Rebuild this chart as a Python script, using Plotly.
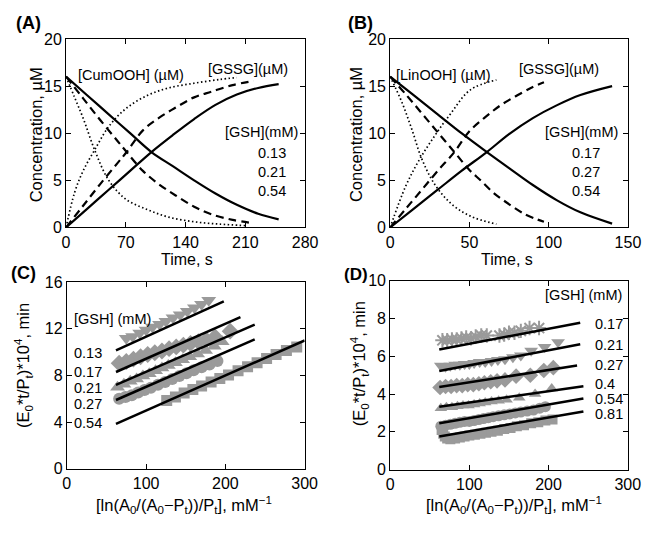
import plotly.graph_objects as go

# ---------------- Panel A (CumOOH) ----------------
A_t_solid = [0, 25, 50, 75, 100, 125, 150, 175, 200, 225, 249]
A_cum_solid = [16, 14.0, 12.0, 10.0, 8.0, 6.5, 5.0, 3.6, 2.4, 1.45, 0.85]
A_gssg_solid = [0, 2.0, 4.0, 6.0, 8.0, 9.8, 11.5, 13.0, 14.1, 14.8, 15.2]

A_t_dash = [0, 20, 40, 60, 71, 90, 110, 130, 150, 170, 195, 220]
A_cum_dash = [16, 13.7, 11.4, 9.2, 8.0, 6.0, 4.5, 3.3, 2.2, 1.4, 0.8, 0.45]
A_gssg_dash = [0, 2.3, 4.6, 6.8, 8.0, 10.3, 11.7, 12.8, 13.8, 14.4, 15.1, 15.55]

A_t_dot_cum = [0, 10, 20, 34, 50, 70, 95, 120, 150, 180, 210]
A_cum_dot = [16, 13.8, 11.6, 8.1, 5.0, 3.0, 1.9, 1.1, 0.6, 0.35, 0.2]
A_t_dot_gssg = [0, 10, 20, 34, 50, 70, 95, 120, 150, 180, 200]
A_gssg_dot = [0, 3.7, 6.0, 8.3, 10.7, 12.6, 14.0, 14.8, 15.3, 15.7, 15.9]
A_gsh_labels = ["0.13", "0.21", "0.54"]

# ---------------- Panel B (LinOOH) ----------------
B_t_solid = [0, 15, 30, 45, 61, 75, 90, 105, 120, 140]
B_lin_solid = [16, 14.0, 12.0, 10.0, 8.0, 6.3, 4.5, 2.9, 1.6, 0.4]
B_gssg_solid = [0, 2.0, 4.0, 6.0, 8.0, 9.9, 11.6, 12.95, 14.05, 15.0]

B_t_dash_l = [0, 10, 20, 30, 40.5, 50, 57, 65, 73, 85, 97]
B_lin_dash = [16, 14.1, 12.1, 10.1, 8.0, 6.1, 5.0, 3.7, 2.7, 1.4, 0.6]
B_t_dash_g = [0, 10, 20, 30, 40.5, 50, 60, 70, 80, 90, 97]
B_gssg_dash = [0, 2.0, 4.0, 6.0, 8.0, 10.2, 11.7, 13.0, 14.0, 14.9, 15.4]

B_t_dot_l = [0, 7.6, 13.7, 19.9, 28, 38.3, 50.6, 67]
B_lin_dot = [16, 13.2, 10.4, 7.3, 4.6, 2.55, 1.2, 0.35]
B_t_dot_g = [0, 9.6, 17.8, 28, 38.3, 50.6, 67]
B_gssg_dot = [0, 4.3, 7.0, 9.7, 12.1, 14.6, 15.65]
B_gsh_labels = ["0.17", "0.27", "0.54"]

# ---------------- Panel C ----------------
C_gsh = ["0.13", "0.17", "0.21", "0.27", "0.54"]
C_symbols = ["triangle-down", "diamond", "triangle-up", "circle", "square"]
C_x = [
    [75, 83, 92, 100, 108, 117, 125, 134, 143, 152, 161, 170, 179],
    [66, 75, 84, 93, 102, 111, 120, 129, 138, 147, 156, 166, 176, 187, 206],
    [64, 72, 80, 88, 96, 104, 112, 120, 128, 137, 146, 155, 165, 175, 186, 196],
    [66, 74, 82, 90, 98, 106, 115, 124, 133, 142, 151, 160, 170, 180, 190],
    [126, 137, 148, 159, 170, 182, 193, 204, 216, 228, 240, 252, 264, 277, 290],
]
C_y = [
    [11.2, 11.35, 11.65, 11.9, 12.15, 12.4, 12.65, 12.95, 13.2, 13.5, 13.8, 14.1, 14.45],
    [9.05, 9.2, 9.4, 9.6, 9.8, 9.95, 10.1, 10.3, 10.45, 10.6, 10.75, 10.9, 11.05, 11.3, 11.8],
    [7.0, 7.25, 7.5, 7.7, 7.95, 8.15, 8.4, 8.65, 8.85, 9.1, 9.35, 9.6, 9.85, 10.15, 10.5, 10.9],
    [6.0, 6.15, 6.3, 6.55, 6.75, 6.95, 7.2, 7.45, 7.7, 7.95, 8.2, 8.45, 8.7, 8.95, 9.25],
    [5.85, 6.15, 6.5, 6.8, 7.1, 7.45, 7.75, 8.05, 8.4, 8.75, 9.1, 9.45, 9.8, 10.15, 10.45],
]
C_fit_x0 = [62, 62, 62, 62, 62]
C_fit_x1 = [198, 219, 237, 237, 300]
C_fit_y0 = [10.15, 8.3, 7.2, 5.9, 3.85]
C_fit_y1 = [14.35, 13.0, 12.35, 11.1, 11.0]
C_label_y = [9.95, 8.3, 6.95, 5.6, 3.9]

# ---------------- Panel D ----------------
D_gsh = ["0.17", "0.21", "0.27", "0.4", "0.54", "0.81"]
D_symbols = ["asterisk-open", "triangle-down", "diamond", "triangle-up", "circle", "square"]
D_x = [
    [66, 72, 78, 84, 90, 96, 102, 108, 115, 122, 138, 144, 150, 157, 165, 176, 188],
    [64, 70, 76, 82, 88, 94, 100, 106, 113, 120, 128, 136, 145, 155, 165, 178, 195, 212],
    [63, 70, 77, 84, 91, 98, 105, 112, 119, 127, 135, 145, 159, 177, 194, 206],
    [64, 71, 78, 85, 92, 99, 106, 113, 120, 128, 137, 147, 163, 183, 204],
    [64, 70, 76, 82, 88, 94, 100, 106, 112, 118, 124, 130, 137, 144, 151, 158, 165, 173, 181, 189, 196],
    [65, 67, 69, 72, 76, 82, 88, 94, 100, 107, 114, 121, 128, 136, 144, 152, 160, 169, 178, 187, 196, 205],
]
D_y = [
    [6.85, 6.85, 6.9, 6.9, 6.95, 7.0, 6.95, 7.05, 7.1, 7.1, 7.1, 7.15, 7.25, 7.25, 7.35, 7.5, 7.5],
    [5.5, 5.45, 5.5, 5.55, 5.55, 5.6, 5.6, 5.65, 5.7, 5.7, 5.75, 5.8, 5.85, 5.95, 6.05, 6.3, 6.5, 6.75],
    [4.35, 4.4, 4.4, 4.45, 4.45, 4.5, 4.5, 4.55, 4.6, 4.65, 4.7, 4.75, 4.95, 5.0, 5.25, 5.4],
    [3.25, 3.3, 3.3, 3.35, 3.4, 3.4, 3.45, 3.5, 3.55, 3.6, 3.65, 3.7, 3.8, 4.0, 4.3],
    [2.3, 2.35, 2.4, 2.45, 2.5, 2.55, 2.55, 2.6, 2.65, 2.7, 2.75, 2.8, 2.85, 2.9, 2.95, 3.0, 3.05, 3.1, 3.15, 3.25, 3.33],
    [2.1, 1.9, 1.75, 1.65, 1.6, 1.65, 1.7, 1.75, 1.8, 1.85, 1.9, 1.95, 2.0, 2.05, 2.15, 2.2, 2.3, 2.35, 2.45, 2.5, 2.6, 2.65],
]
D_fit_x0 = [62, 62, 62, 62, 62, 62]
D_fit_x1 = [240, 240, 236, 244, 244, 244]
D_fit_y0 = [6.36, 5.22, 4.37, 3.33, 2.45, 1.75]
D_fit_y1 = [7.78, 6.64, 5.51, 4.41, 3.76, 3.08]
D_label_y = [7.7, 6.6, 5.56, 4.53, 3.76, 2.96]

FONT = "Liberation Sans, Arial, Helvetica, sans-serif"
GRAY = "#9a9a9a"
OFF = 8  # page body margin of the html page
W, H = 658 - OFF, 534 - OFF

fig = go.Figure()


def curve(t, v, dash, width, xa, ya):
    fig.add_trace(go.Scatter(x=t, y=v, mode="lines", xaxis=xa, yaxis=ya,
                             line=dict(color="black", width=width, dash=dash, shape="spline"),
                             hoverinfo="skip"))


DASH = "8px,5px"
DOT = "1.5px,2.5px"
# Panel A
curve(A_t_solid, A_cum_solid, "solid", 2.2, "x", "y")
curve(A_t_solid, A_gssg_solid, "solid", 2.2, "x", "y")
curve(A_t_dash, A_cum_dash, DASH, 2.2, "x", "y")
curve(A_t_dash, A_gssg_dash, DASH, 2.2, "x", "y")
curve(A_t_dot_cum, A_cum_dot, DOT, 1.7, "x", "y")
curve(A_t_dot_gssg, A_gssg_dot, DOT, 1.7, "x", "y")
# Panel B
curve(B_t_solid, B_lin_solid, "solid", 2.2, "x2", "y2")
curve(B_t_solid, B_gssg_solid, "solid", 2.2, "x2", "y2")
curve(B_t_dash_l, B_lin_dash, DASH, 2.2, "x2", "y2")
curve(B_t_dash_g, B_gssg_dash, DASH, 2.2, "x2", "y2")
curve(B_t_dot_l, B_lin_dot, DOT, 1.7, "x2", "y2")
curve(B_t_dot_g, B_gssg_dot, DOT, 1.7, "x2", "y2")

# Panel C markers then fit lines
C_sizes = [13, 13, 13, 12, 11]
for i in range(len(C_gsh)):
    fig.add_trace(go.Scatter(x=C_x[i], y=C_y[i], mode="markers", xaxis="x3", yaxis="y3",
                             marker=dict(symbol=C_symbols[i], size=C_sizes[i], color=GRAY,
                                         line=dict(width=0)), hoverinfo="skip"))
for i in range(len(C_gsh)):
    fig.add_trace(go.Scatter(x=[C_fit_x0[i], C_fit_x1[i]], y=[C_fit_y0[i], C_fit_y1[i]],
                             mode="lines", xaxis="x3", yaxis="y3",
                             line=dict(color="black", width=2.5), hoverinfo="skip"))

# Panel D markers then fit lines
D_sizes = [12, 12, 12, 11, 11, 10]
for i in range(len(D_gsh)):
    if D_symbols[i] == "asterisk-open":
        mk = dict(symbol=D_symbols[i], size=D_sizes[i], color=GRAY, line=dict(color=GRAY, width=2))
    else:
        mk = dict(symbol=D_symbols[i], size=D_sizes[i], color=GRAY, line=dict(width=0))
    fig.add_trace(go.Scatter(x=D_x[i], y=D_y[i], mode="markers", xaxis="x4", yaxis="y4",
                             marker=mk, hoverinfo="skip"))
for i in range(len(D_gsh)):
    fig.add_trace(go.Scatter(x=[D_fit_x0[i], D_fit_x1[i]], y=[D_fit_y0[i], D_fit_y1[i]],
                             mode="lines", xaxis="x4", yaxis="y4",
                             line=dict(color="black", width=2.5), hoverinfo="skip"))


def ax(domain, rng, tickvals, anchor):
    return dict(domain=domain, range=rng, tickvals=tickvals, anchor=anchor,
                showline=True, linecolor="black", linewidth=1, mirror="ticks",
                ticks="inside", ticklen=5, tickcolor="black", tickwidth=1,
                showgrid=False, zeroline=False, fixedrange=True,
                tickfont=dict(family=FONT, size=16, color="black"))


def px(x0, x1):
    return [(x0 - OFF) / W, (x1 - OFF) / W]


def py(top, bottom):
    return [1 - (bottom - OFF) / H, 1 - (top - OFF) / H]


def pX(x):
    return (x - OFF) / W


def pY(y):
    return 1 - (y - OFF) / H


fig.update_layout(
    width=W, height=H, margin=dict(l=0, r=0, t=0, b=0),
    paper_bgcolor="white", plot_bgcolor="white", showlegend=False,
    xaxis=ax(px(63.5, 309), [0, 280], [0, 70, 140, 210, 280], "y"),
    yaxis=ax(py(31.7, 226.5), [0, 20], [0, 5, 10, 15, 20], "x"),
    xaxis2=ax(px(396.3, 640.5), [0, 150], [0, 50, 100, 150], "y2"),
    yaxis2=ax(py(31.7, 226.5), [0, 20], [0, 5, 10, 15, 20], "x2"),
    xaxis3=ax(px(64.3, 308.5), [0, 300], [0, 100, 200, 300], "y3"),
    yaxis3=ax(py(283, 476), [0, 16], [0, 4, 8, 12, 16], "x3"),
    xaxis4=ax(px(396.3, 640.3), [0, 300], [0, 100, 200, 300], "y4"),
    yaxis4=ax(py(281.7, 476.7), [0, 10], [0, 2, 4, 6, 8, 10], "x4"),
)

ann = []


def note(text, x, y, xref, yref, size=14.5, xanchor="center", yanchor="middle", angle=0, bold=False):
    if bold:
        text = "<b>" + text + "</b>"
    ann.append(dict(text=text, x=x, y=y, xref=xref, yref=yref, showarrow=False,
                    xanchor=xanchor, yanchor=yanchor, textangle=angle,
                    font=dict(family=FONT, size=size, color="black")))


# panel letters
note("(A)", pX(25), pY(15), "paper", "paper", size=18, bold=True)
note("(B)", pX(365.5), pY(15), "paper", "paper", size=18, bold=True)
note("(C)", pX(19.5), pY(274), "paper", "paper", size=18, bold=True)
note("(D)", pX(361), pY(275), "paper", "paper", size=17, bold=True)

# axis titles
note("Concentration, \u00b5M", pX(33), pY(131), "paper", "paper", size=16.5, angle=-90)
note("Time, s", pX(187.5), pY(260), "paper", "paper", size=16)
note("Concentration, \u00b5M", pX(361.3), pY(131), "paper", "paper", size=16.5, angle=-90)
note("Time, s", pX(516.3), pY(260), "paper", "paper", size=16)
ytit = "(E<sub>0</sub>*t/P<sub>t</sub>)*10<sup>4</sup>, min"
xtit = "[ln(A<sub>0</sub>/(A<sub>0</sub>\u2212P<sub>t</sub>))/P<sub>t</sub>], mM<sup>\u22121</sup>"
note(ytit, pX(20), pY(369), "paper", "paper", size=16.5, angle=-90)
note(xtit, pX(185), pY(513), "paper", "paper", size=16.5)
note(ytit, pX(364.7), pY(367.5), "paper", "paper", size=16.5, angle=-90)
note(xtit, pX(523), pY(513), "paper", "paper", size=16.5)

# Panel A texts
note("[CumOOH] (\u00b5M)", 12, 16.2, "x", "y", xanchor="left")
note("[GSSG](\u00b5M)", 262, 16.85, "x", "y", xanchor="right")
note("[GSH](mM)", 274, 10.1, "x", "y", xanchor="right")
for lab, yy in zip(A_gsh_labels, [7.9, 5.9, 3.9]):
    note(lab, 241, yy, "x", "y")
# Panel B texts
note("[LinOOH] (\u00b5M)", 2.6, 16.2, "x2", "y2", xanchor="left")
note("[GSSG](\u00b5M)", 133, 16.85, "x2", "y2", xanchor="right")
note("[GSH](mM)", 145, 10.1, "x2", "y2", xanchor="right")
for lab, yy in zip(B_gsh_labels, [7.9, 5.9, 3.9]):
    note(lab, 123.8, yy, "x2", "y2")
# Panel C texts
note("[GSH] (mM)", 7, 12.8, "x3", "y3", xanchor="left")
for lab, yy in zip(C_gsh, C_label_y):
    note(lab, 7, yy, "x3", "y3", xanchor="left")
# Panel D texts
note("[GSH] (mM)", 295, 9.23, "x4", "y4", xanchor="right")
for lab, yy in zip(D_gsh, D_label_y):
    note(lab, 256, yy, "x4", "y4", xanchor="left")

fig.update_layout(annotations=ann)
fig.write_html("out.html")
